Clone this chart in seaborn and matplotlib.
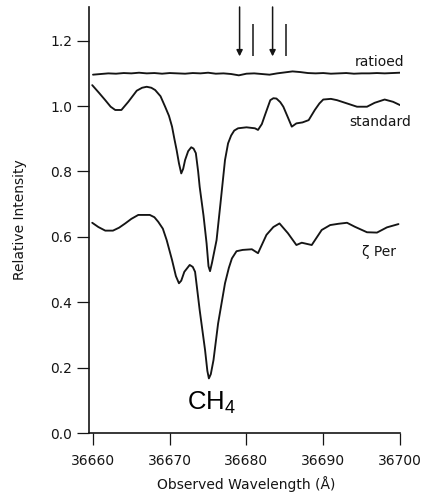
import numpy as np
import pandas as pd
import matplotlib
matplotlib.use("Agg")
import matplotlib.pyplot as plt
import seaborn as sns

# ---------------- data ----------------
std_wl = [36659.9, 36660.8, 36661.6, 36662.3, 36662.9, 36663.7, 36664.6, 36665.7,
          36666.4, 36667.0, 36667.6, 36668.1, 36668.8, 36669.4, 36669.9, 36670.3,
          36670.6, 36670.9, 36671.2, 36671.5, 36671.75, 36672.0, 36672.4, 36672.8,
          36673.1, 36673.4, 36673.7, 36673.9, 36674.4, 36674.8, 36675.05, 36675.25,
          36675.5, 36676.1, 36676.6, 36677.2, 36677.6, 36678.0, 36678.4, 36678.9,
          36680.0, 36681.1, 36681.5, 36682.0, 36682.4, 36683.1, 36683.5, 36683.9,
          36684.4, 36684.8, 36685.4, 36685.9, 36686.5, 36687.3, 36688.1, 36688.9,
          36689.5, 36690.0, 36691.0, 36691.8, 36693.1, 36694.4, 36695.7, 36696.7,
          36698.0, 36699.1, 36700.0]
std_int = [1.064, 1.040, 1.018, 0.998, 0.988, 0.988, 1.013, 1.047,
           1.056, 1.059, 1.056, 1.049, 1.030, 0.998, 0.970, 0.937,
           0.900, 0.865, 0.825, 0.794, 0.808, 0.835, 0.862, 0.874,
           0.870, 0.856, 0.800, 0.753, 0.665, 0.580, 0.510, 0.495,
           0.520, 0.590, 0.700, 0.835, 0.886, 0.910, 0.925, 0.932,
           0.935, 0.932, 0.927, 0.945, 0.972, 1.018, 1.024, 1.023,
           1.012, 0.998, 0.965, 0.937, 0.947, 0.950, 0.957, 0.988,
           1.008, 1.020, 1.022, 1.018, 1.008, 0.998, 0.998, 1.010,
           1.020, 1.013, 1.003]

zp_wl = [36659.9, 36660.7, 36661.6, 36662.6, 36663.4, 36664.2, 36665.0, 36665.9,
         36667.4, 36668.0, 36668.5, 36669.1, 36669.6, 36670.3, 36670.8, 36671.2,
         36671.5, 36671.9, 36672.6, 36673.0, 36673.3, 36673.9, 36674.6, 36674.9,
         36675.1, 36675.35, 36675.7, 36676.3, 36677.2, 36677.7, 36678.1, 36678.7,
         36679.5, 36680.7, 36681.5, 36682.6, 36683.5, 36684.3, 36685.4, 36686.5,
         36687.2, 36688.5, 36689.8, 36690.9, 36692.0, 36693.1, 36694.1, 36695.7,
         36697.0, 36698.3, 36699.8]
zp_int = [0.643, 0.630, 0.619, 0.619, 0.628, 0.641, 0.655, 0.667,
          0.667, 0.660, 0.646, 0.625, 0.590, 0.529, 0.480, 0.458,
          0.466, 0.493, 0.514, 0.508, 0.493, 0.376, 0.254, 0.190,
          0.167, 0.180, 0.223, 0.335, 0.458, 0.505, 0.534, 0.556,
          0.560, 0.562, 0.550, 0.606, 0.630, 0.641, 0.611, 0.575,
          0.582, 0.575, 0.621, 0.636, 0.640, 0.643, 0.631, 0.614,
          0.613, 0.629, 0.639]

rat_wl = [36660, 36661, 36662, 36663, 36664, 36665, 36666, 36667, 36668, 36669,
          36670, 36671, 36672, 36673, 36674, 36675, 36676, 36677, 36678, 36679,
          36680, 36681, 36682, 36683, 36684, 36685, 36686, 36687, 36688, 36689,
          36690, 36691, 36692, 36693, 36694, 36695, 36696, 36697, 36698, 36699,
          36700]
rat_int = [1.096, 1.098, 1.100, 1.099, 1.101, 1.100, 1.102, 1.100, 1.101, 1.099,
           1.101, 1.100, 1.099, 1.101, 1.100, 1.102, 1.099, 1.100, 1.098, 1.094,
           1.099, 1.100, 1.098, 1.096, 1.100, 1.103, 1.106, 1.104, 1.101, 1.100,
           1.101, 1.099, 1.100, 1.101, 1.099, 1.100, 1.100, 1.101, 1.100, 1.101,
           1.102]

arrow_wl = [36679.1, 36683.4]
marker_wl = [36680.8, 36685.2]

series_names = ["ratioed", "standard", "ζ Per"]
label_pos = [(36700.6, 1.135), (36701.4, 0.951), (36699.5, 0.553)]

xticks = [36660, 36670, 36680, 36690, 36700]
yticks = [0.0, 0.2, 0.4, 0.6, 0.8, 1.0, 1.2]
ytick_labels = ["0.0", "0.2", "0.4", "0.6", "0.8", "1.0", "1.2"]

# ---------------- frame ----------------
df = pd.concat([
    pd.DataFrame({"wl": rat_wl, "I": rat_int, "s": series_names[0]}),
    pd.DataFrame({"wl": std_wl, "I": std_int, "s": series_names[1]}),
    pd.DataFrame({"wl": zp_wl, "I": zp_int, "s": series_names[2]}),
])

sns.set_style("ticks")
plt.rcParams["font.family"] = ["DejaVu Sans"]
plt.rcParams["mathtext.fontset"] = "custom"
plt.rcParams["mathtext.rm"] = "Liberation Sans"

fig = plt.figure(figsize=(4.22, 4.98), dpi=100)
ax = fig.add_axes([89/422, 65/498, 311/422, 426/498])

sns.lineplot(data=df, x="wl", y="I", hue="s", units="s", estimator=None,
             palette={n: "#151515" for n in series_names}, legend=False,
             linewidth=1.35, ax=ax)

ax.set_xlim(36659.48, 36700)
ax.set_ylim(0.0, 1.303)
ax.set_xticks(xticks)
ax.set_xticklabels([str(t) for t in xticks])
ax.set_yticks(yticks)
ax.set_yticklabels(ytick_labels)
ax.tick_params(axis="both", direction="out", length=8.6, width=0.9,
               labelsize=10, colors="#151515")
ax.tick_params(axis="x", pad=6.5)
ax.tick_params(axis="y", pad=3.5)
sns.despine(ax=ax)
for sp in ["left", "bottom"]:
    ax.spines[sp].set_linewidth(1.2)
    ax.spines[sp].set_color("#151515")

ax.set_xlabel("Observed Wavelength (Å)", fontsize=10, color="#151515")
ax.set_ylabel("Relative Intensity", fontsize=10, color="#151515")
ax.xaxis.set_label_coords(0.505, -0.100)
ax.yaxis.set_label_coords(-0.200, 0.5)

for name, (lx, ly) in zip(series_names, label_pos):
    ax.text(lx, ly, name, ha="right", va="center", fontsize=10,
            color="#151515", clip_on=False)

ax.text(36675.5, 0.092, r"CH$_{\mathrm{4}}$", ha="center", va="center",
        fontsize=18.5, family="Liberation Sans", color="black")

for w in arrow_wl:
    ax.annotate("", xy=(w, 1.152), xytext=(w, 1.303),
                arrowprops=dict(arrowstyle="-|>", lw=1.1, color="#151515",
                                mutation_scale=9, shrinkA=0, shrinkB=0),
                annotation_clip=False)
ax.vlines(marker_wl, 1.152, 1.252, color="#151515", lw=1.1, clip_on=False)

fig.savefig("out.png", dpi=100)
